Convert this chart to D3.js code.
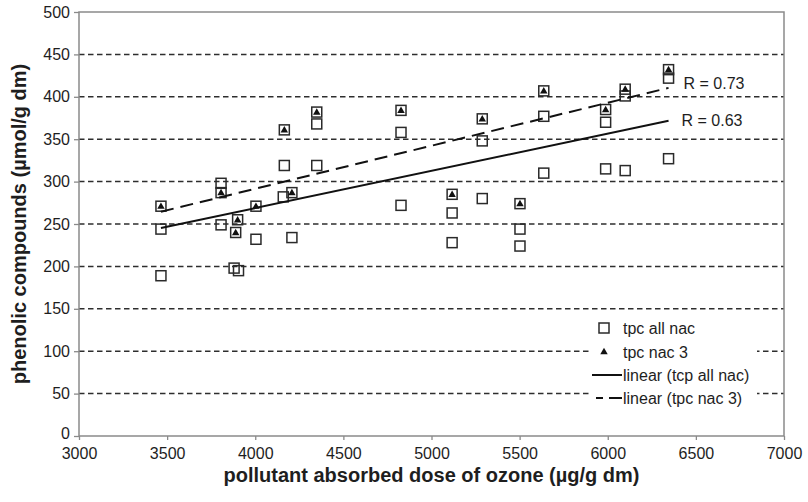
<!DOCTYPE html>
<html>
<head>
<meta charset="utf-8">
<script src="https://cdn.jsdelivr.net/npm/d3@7/dist/d3.min.js"></script>
<style>
  html, body { margin: 0; padding: 0; background: #fff; }
  svg { display: block; }
  text { font-family: "Liberation Sans", Arial, sans-serif; fill: #1e1e1e; }
</style>
</head>
<body>
<svg id="chart" width="808" height="502"></svg>
<script>
// Phenolic compounds vs. absorbed ozone dose

// tpc nac 3 (one value per dose)
const doseNac3 = [3465, 3806, 3889, 3900, 4004, 4165, 4208, 4349, 4827, 5117, 5288, 5502, 5637, 5988, 6099, 6345];
const tpcNac3  = [271,  287,  240,  255,  271,  361,  287,  382,  384,  285,  374,  274,  407,  385,  409,  432];

// tpc all nac: the nac 3 values plus the remaining samples
const doseOther = [3465, 3465, 3806, 3806, 3880, 3905, 4004, 4159, 4165, 4208, 4349, 4349, 4827, 4827, 5117, 5117, 5288, 5288, 5502, 5502, 5637, 5637, 5988, 5988, 6099, 6099, 6345, 6345];
const tpcOther  = [244,  189,  298,  249,  198,  195,  232,  282,  319,  234,  368,  319,  358,  272,  263,  228,  348,  280,  244,  224,  377,  310,  370,  315,  401,  313,  422,  327];

const doseAll = doseNac3.concat(doseOther);
const tpcAll  = tpcNac3.concat(tpcOther);

const xTicks = [3000, 3500, 4000, 4500, 5000, 5500, 6000, 6500, 7000];
const yTicks = [0, 50, 100, 150, 200, 250, 300, 350, 400, 450, 500];
const gridValues = [50, 100, 150, 200, 250, 300, 350, 400, 450];

const xTitle = "pollutant absorbed dose of ozone (µg/g dm)";
const yTitle = "phenolic compounds (µmol/g dm)";
const legendLabels = ["tpc all nac", "tpc nac 3", "linear (tcp all nac)", "linear (tpc nac 3)"];
const rLabels = ["R = 0.63", "R = 0.73"];

const W = 808, H = 502;
const margin = { left: 79, top: 12, right: 24, bottom: 66 };
const svg = d3.select("#chart");

const x = d3.scaleLinear().domain([3000, 7000]).range([margin.left, W - margin.right]);
const y = d3.scaleLinear().domain([0, 500]).range([H - margin.bottom, margin.top]);

// least-squares line through a series
function fit(xs, ys) {
  const mx = d3.mean(xs), my = d3.mean(ys);
  let sxy = 0, sxx = 0;
  xs.forEach((v, i) => { sxy += (v - mx) * (ys[i] - my); sxx += (v - mx) * (v - mx); });
  const b = sxy / sxx, a = my - b * mx;
  const x0 = d3.min(xs), x1 = d3.max(xs);
  return [[x0, a + b * x0], [x1, a + b * x1]];
}

// dashed horizontal gridlines
svg.append("g").selectAll("line").data(gridValues).join("line")
  .attr("x1", x(3000)).attr("x2", x(7000))
  .attr("y1", d => y(d)).attr("y2", d => y(d))
  .attr("stroke", "#2e2e2e").attr("stroke-width", 1.5)
  .attr("stroke-dasharray", "5.5,3.5");

// axes
const xAxis = svg.append("g").attr("transform", `translate(0,${y(0)})`)
  .call(d3.axisBottom(x).tickValues(xTicks).tickSize(4).tickPadding(8).tickFormat(d3.format("d")));
const yAxis = svg.append("g").attr("transform", `translate(${x(3000)},0)`)
  .call(d3.axisLeft(y).tickValues(yTicks).tickSize(5).tickPadding(4).tickFormat(d3.format("d")));
[xAxis, yAxis].forEach(g => {
  g.select(".domain").remove();
  g.selectAll(".tick line").attr("stroke", "#8a8a8a").attr("stroke-width", 1.3);
  g.selectAll(".tick text").attr("font-size", 16).style("fill", "#1e1e1e")
    .attr("font-family", "Liberation Sans, Arial, sans-serif");
});
// lift the bottom value label slightly so it clears the first dose label
yAxis.selectAll(".tick text").filter(d => d === 0).attr("dy", "0.15em");

// plot frame
svg.append("rect")
  .attr("x", x(3000)).attr("y", y(500))
  .attr("width", x(7000) - x(3000)).attr("height", y(0) - y(500))
  .attr("fill", "none").attr("stroke", "#8a8a8a").attr("stroke-width", 1.5);

// legend background
const lg = { x: 590, y: 316, w: 167, h: 100 };
svg.append("rect").attr("x", lg.x).attr("y", lg.y).attr("width", lg.w).attr("height", lg.h).attr("fill", "#fff");

// tpc all nac markers
const sq = 10;
svg.append("g").selectAll("rect").data(doseAll.map((d, i) => [d, tpcAll[i]])).join("rect")
  .attr("x", d => x(d[0]) - sq / 2).attr("y", d => y(d[1]) - sq / 2)
  .attr("width", sq).attr("height", sq)
  .attr("fill", "none").attr("stroke", "#2a2a2a").attr("stroke-width", 1.5);

// tpc nac 3 markers
const tri = d3.symbol().type(d3.symbolTriangle).size(24);
svg.append("g").selectAll("path").data(doseNac3.map((d, i) => [d, tpcNac3[i]])).join("path")
  .attr("d", tri)
  .attr("transform", d => `translate(${x(d[0])},${y(d[1]) + 0.5})`)
  .attr("fill", "#111");

// trend lines
const line = d3.line().x(d => x(d[0])).y(d => y(d[1]));
const fitAll = fit(doseAll, tpcAll);
const fitNac3 = fit(doseNac3, tpcNac3);
svg.append("path").attr("d", line(fitAll)).attr("fill", "none")
  .attr("stroke", "#111").attr("stroke-width", 2);
svg.append("path").attr("d", line(fitNac3)).attr("fill", "none")
  .attr("stroke", "#111").attr("stroke-width", 2).attr("stroke-dasharray", "13,7");

// correlation labels at line ends
svg.append("text").attr("x", x(fitAll[1][0]) + 13).attr("y", y(fitAll[1][1]))
  .attr("dy", "0.35em").attr("font-size", 16).text(rLabels[0]);
svg.append("text").attr("x", x(fitNac3[1][0]) + 15).attr("y", y(fitNac3[1][1]) - 4)
  .attr("dy", "0.35em").attr("font-size", 16).text(rLabels[1]);

// legend entries
const rowY = [328, 352, 375, 398];
const sx = 604, tx = 623;
svg.append("rect").attr("x", sx - sq / 2).attr("y", rowY[0] - sq / 2).attr("width", sq).attr("height", sq)
  .attr("fill", "none").attr("stroke", "#2a2a2a").attr("stroke-width", 1.5);
svg.append("path").attr("d", tri).attr("transform", `translate(${sx},${rowY[1]})`).attr("fill", "#111");
svg.append("line").attr("x1", 592).attr("x2", 622).attr("y1", rowY[2]).attr("y2", rowY[2])
  .attr("stroke", "#111").attr("stroke-width", 2);
svg.append("line").attr("x1", 592).attr("x2", 622).attr("y1", rowY[3]).attr("y2", rowY[3])
  .attr("stroke", "#111").attr("stroke-width", 2).attr("stroke-dasharray", "0,4,7,6,9");
svg.append("g").selectAll("text").data(legendLabels).join("text")
  .attr("x", tx).attr("y", (d, i) => rowY[i]).attr("dy", "0.35em")
  .attr("font-size", 16).text(d => d);

// axis titles
svg.append("text").attr("x", (x(3000) + x(7000)) / 2).attr("y", 475)
  .attr("text-anchor", "middle").attr("dy", "0.35em")
  .attr("font-size", 20).attr("font-weight", "bold").text(xTitle);
svg.append("text")
  .attr("transform", `translate(19,${(y(0) + y(500)) / 2}) rotate(-90)`)
  .attr("text-anchor", "middle").attr("dy", "0.35em")
  .attr("font-size", 20).attr("font-weight", "bold").text(yTitle);
</script>
</body>
</html>
